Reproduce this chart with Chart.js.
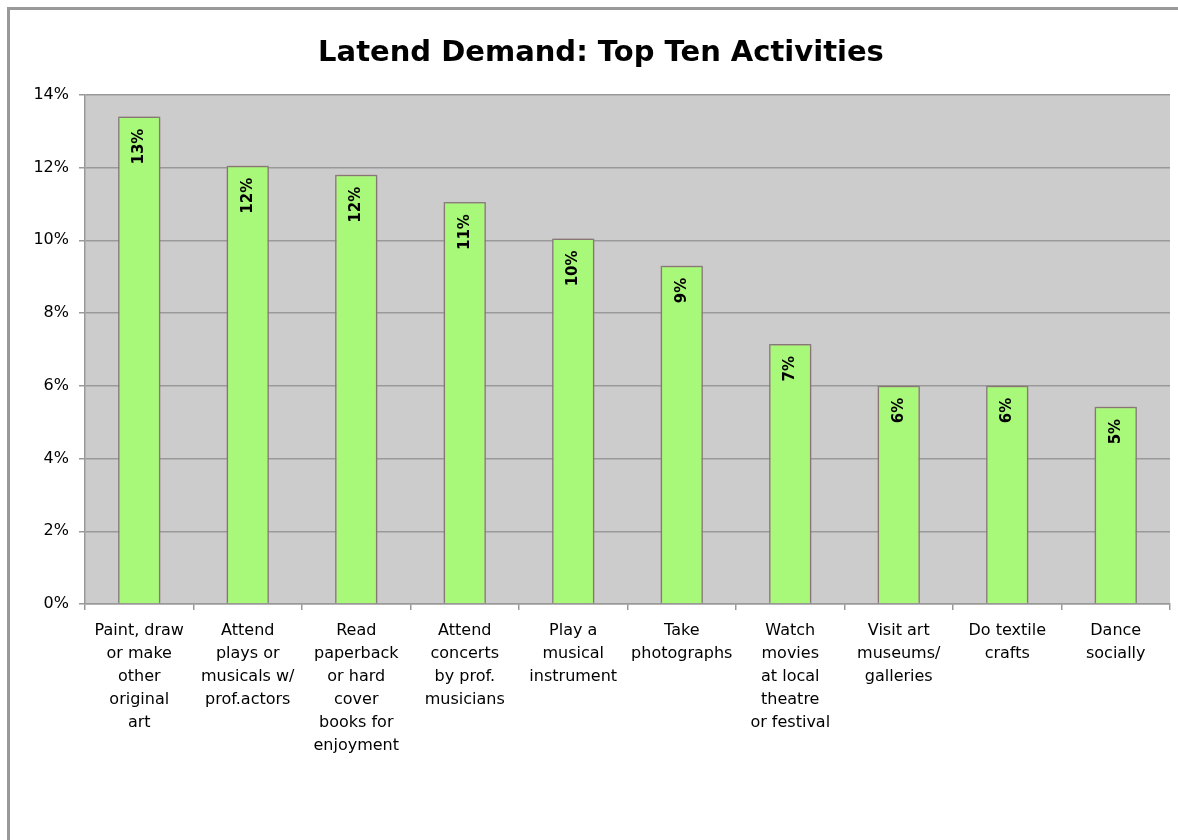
<!DOCTYPE html>
<html>
<head>
<meta charset="utf-8">
<script src="https://cdn.jsdelivr.net/npm/chart.js@4/dist/chart.umd.min.js"></script>
<style>
  html, body { margin: 0; padding: 0; background: #fff; }
  #wrap { position: relative; width: 1178px; height: 840px; overflow: hidden; }
  #frame {
    position: absolute; left: 7px; top: 7px; width: 1200px; height: 900px;
    border-top: 3px solid #999; border-left: 3px solid #999;
  }
  canvas { position: absolute; left: 0; top: 0; }
</style>
</head>
<body>
<div id="wrap">
  <div id="frame"></div>
  <canvas id="chart" width="1178" height="840"></canvas>
</div>
<script>
'use strict';

const categories = [
  ['Paint, draw', 'or make', 'other', 'original', 'art'],
  ['Attend', 'plays or', 'musicals w/', 'prof.actors'],
  ['Read', 'paperback', 'or hard', 'cover', 'books for', 'enjoyment'],
  ['Attend', 'concerts', 'by prof.', 'musicians'],
  ['Play a', 'musical', 'instrument'],
  ['Take', 'photographs'],
  ['Watch', 'movies', 'at local', 'theatre', 'or festival'],
  ['Visit art', 'museums/', 'galleries'],
  ['Do textile', 'crafts'],
  ['Dance', 'socially']
];
const demand = [13.4, 12.05, 11.8, 11.05, 10.05, 9.3, 7.15, 6.0, 6.0, 5.42];
const yTicks = [0, 2, 4, 6, 8, 10, 12, 14];

const FONT = '"DejaVu Sans", Verdana, sans-serif';

const plotBg = {
  id: 'plotBg',
  beforeDraw(chart) {
    const { ctx, chartArea: a } = chart;
    ctx.save();
    ctx.fillStyle = '#cccccc';
    ctx.fillRect(a.left, a.top, a.right - a.left, a.bottom - a.top);
    ctx.restore();
  }
};

const barShadow = {
  id: 'barShadow',
  beforeDatasetDraw(chart) {
    const ctx = chart.ctx;
    ctx.save();
    ctx.shadowColor = 'rgba(150,70,70,0.55)';
    ctx.shadowBlur = 4;
    ctx.shadowOffsetX = 0;
    ctx.shadowOffsetY = 0;
  },
  afterDatasetDraw(chart) {
    chart.ctx.restore();
  }
};

// rotated value labels inside the top of each bar, reading bottom to top
const valueLabels = {
  id: 'valueLabels',
  afterDatasetsDraw(chart) {
    const ctx = chart.ctx;
    const meta = chart.getDatasetMeta(0);
    ctx.save();
    ctx.fillStyle = '#000';
    ctx.font = 'bold 15px ' + FONT;
    ctx.textAlign = 'right';
    ctx.textBaseline = 'middle';
    meta.data.forEach((bar, i) => {
      ctx.save();
      ctx.translate(bar.x, bar.y + 12);
      ctx.rotate(-Math.PI / 2);
      ctx.fillText(Math.round(demand[i]) + '%', 0, 0);
      ctx.restore();
    });
    ctx.restore();
  }
};

new Chart(document.getElementById('chart').getContext('2d'), {
  type: 'bar',
  data: {
    labels: categories,
    datasets: [{
      data: demand,
      backgroundColor: '#a8f87a',
      borderColor: '#858585',
      borderWidth: 1.5,
      barPercentage: 0.39,
      categoryPercentage: 1
    }]
  },
  options: {
    responsive: false,
    animation: false,
    layout: { padding: { left: 32, right: 8, top: 0, bottom: 0 } },
    plugins: {
      legend: { display: false },
      tooltip: { enabled: false },
      title: {
        display: true,
        text: 'Latend Demand: Top Ten Activities',
        color: '#000',
        font: { family: FONT, size: 29, weight: 'bold' },
        padding: { top: 36, bottom: 24 }
      }
    },
    scales: {
      x: {
        grid: {
          offset: true,
          drawOnChartArea: false,
          drawTicks: true,
          tickLength: 6,
          color: '#999',
          lineWidth: 1.5
        },
        border: { color: '#999', width: 1.5 },
        ticks: {
          color: '#000',
          font: { family: FONT, size: 16, lineHeight: 1.44 },
          maxRotation: 0,
          autoSkip: false,
          padding: 9
        },
        afterFit(scale) { scale.height = 236; }
      },
      y: {
        min: 0,
        max: 14,
        afterBuildTicks(scale) { scale.ticks = yTicks.map(v => ({ value: v })); },
        grid: { color: '#999', lineWidth: 1.5, tickLength: 6 },
        border: { color: '#999', width: 1.5 },
        ticks: {
          color: '#000',
          font: { family: FONT, size: 16 },
          padding: 10,
          callback: v => v + '%'
        },
        afterFit(scale) { scale.width = 53; }
      }
    }
  },
  plugins: [plotBg, barShadow, valueLabels]
});
</script>
</body>
</html>
